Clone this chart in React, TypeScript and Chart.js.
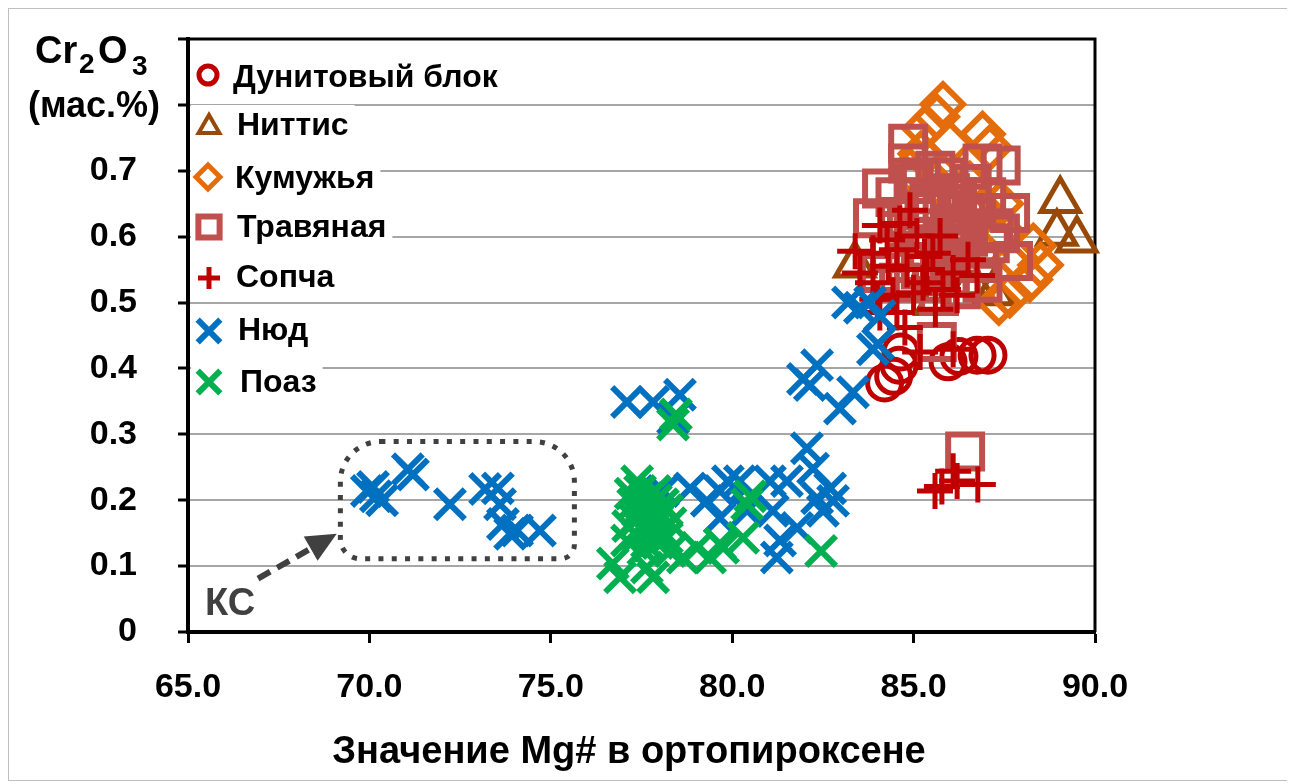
import React, { useEffect, useRef } from 'react';
import { Chart, registerables } from 'chart.js';
import { drawPoint } from 'chart.js/helpers';

Chart.register(...registerables);

const FONT = '"Liberation Sans", Arial, sans-serif';

// Axis ranges and ticks
const xMin = 65;
const xMax = 90;
const xStep = 5;
const yMin = 0;
const yMax = 0.9;
const yStep = 0.1;

const seriesNames = ['Дунитовый блок', 'Ниттис', 'Кумужья', 'Травяная', 'Сопча', 'Нюд', 'Поаз'];

// Mg# (x) and Cr2O3 wt.% (y) for each massif
const dunitBlock = [
  [84.2, 0.378], [84.45, 0.388], [84.6, 0.405], [84.65, 0.425],
  [85.95, 0.41], [86.25, 0.418], [86.75, 0.42], [87.05, 0.42],
];

const nittis = [
  [89.04, 0.655], [88.95, 0.605], [89.5, 0.595], [83.38, 0.557],
  [85.6, 0.5], [87.2, 0.515], [86.6, 0.53],
];

const kumuzhya = [
  [85.81, 0.801], [85.64, 0.782], [85.3, 0.764], [86.9, 0.756], [86.0, 0.741],
  [87.1, 0.735], [85.2, 0.726], [86.55, 0.68], [85.6, 0.68], [87.4, 0.65],
  [86.3, 0.62], [87.5, 0.605], [88.3, 0.586], [88.5, 0.557], [87.8, 0.568],
  [88.2, 0.535], [87.65, 0.511], [87.35, 0.5], [84.9, 0.7], [86.9, 0.64],
];

const travyanaya = [
  [84.85, 0.741], [84.85, 0.711], [84.13, 0.673], [83.88, 0.628], [86.9, 0.711],
  [87.4, 0.708], [87.66, 0.636], [87.74, 0.563], [87.2, 0.613], [85.64, 0.44],
  [86.42, 0.274], [85.45, 0.651], [86.0, 0.666], [86.28, 0.59], [84.35, 0.575],
  [84.07, 0.545], [85.18, 0.613], [86.42, 0.636], [85.73, 0.56], [87.38, 0.605],
  [85.0, 0.68], [86.6, 0.68], [85.6, 0.7], [86.0, 0.62], [84.6, 0.63],
  [85.4, 0.58], [86.8, 0.56], [86.3, 0.52], [85.3, 0.64], [85.8, 0.64],
  [86.1, 0.6], [85.9, 0.58], [86.5, 0.6], [85.0, 0.6], [84.8, 0.56],
  [85.5, 0.53], [86.0, 0.54], [86.6, 0.65], [86.2, 0.66], [85.2, 0.69],
  [84.5, 0.66], [85.9, 0.69], [87.0, 0.66], [87.1, 0.59], [86.9, 0.53],
  [85.7, 0.51], [84.6, 0.53], [85.2, 0.55],
];

const sopcha = [
  [84.62, 0.62], [85.09, 0.601], [85.73, 0.601], [84.27, 0.595], [83.88, 0.575],
  [84.54, 0.58], [85.53, 0.575], [83.52, 0.545], [84.82, 0.55], [85.37, 0.55],
  [85.26, 0.53], [86.09, 0.545], [86.75, 0.541], [85.81, 0.52], [86.2, 0.511],
  [83.88, 0.53], [84.43, 0.511], [84.07, 0.485], [84.54, 0.485], [84.76, 0.462],
  [85.18, 0.425], [86.09, 0.429], [84.07, 0.617], [83.39, 0.578], [84.9, 0.64],
  [85.3, 0.57], [84.3, 0.555], [85.0, 0.515], [85.6, 0.49], [84.0, 0.505],
  [86.5, 0.565],
  [85.59, 0.214], [86.09, 0.244], [86.2, 0.229], [86.77, 0.224], [85.78, 0.221],
];

const nyud = [
  [69.93, 0.214], [70.18, 0.206], [70.35, 0.2], [70.1, 0.22], [71.06, 0.247],
  [71.2, 0.239], [72.22, 0.194], [73.19, 0.217], [73.54, 0.218], [73.6, 0.194],
  [73.68, 0.164], [73.88, 0.149], [74.07, 0.154], [74.7, 0.154],
  [77.1, 0.349], [77.82, 0.349], [78.56, 0.36], [78.37, 0.324],
  [78.09, 0.214], [78.84, 0.218], [79.3, 0.199], [79.66, 0.173], [79.66, 0.214],
  [79.88, 0.229], [80.21, 0.229], [80.41, 0.184], [81.32, 0.139], [81.23, 0.113],
  [81.79, 0.158], [81.04, 0.229], [82.5, 0.184], [82.7, 0.218], [82.78, 0.199],
  [81.51, 0.229], [81.12, 0.184], [82.34, 0.203], [82.06, 0.279], [82.23, 0.248],
  [81.95, 0.384], [82.34, 0.405], [82.14, 0.375], [82.97, 0.339], [83.33, 0.364],
  [83.88, 0.429], [83.52, 0.492], [83.19, 0.5], [84.02, 0.437], [83.8, 0.5],
  [84.07, 0.48],
];

const poaz = [
  [77.38, 0.229], [76.71, 0.104], [76.91, 0.083], [77.82, 0.083], [77.65, 0.098],
  [78.29, 0.123], [78.64, 0.113], [79.03, 0.128], [79.39, 0.113], [79.66, 0.134],
  [77.46, 0.158], [77.93, 0.169], [77.27, 0.194], [78.09, 0.194], [77.65, 0.203],
  [77.1, 0.139], [78.2, 0.143], [78.37, 0.315], [78.45, 0.33], [80.41, 0.194],
  [80.3, 0.143], [82.45, 0.123], [79.75, 0.128], [80.5, 0.206], [77.6, 0.184],
  [77.8, 0.154], [78.0, 0.176], [77.35, 0.169], [77.7, 0.131], [77.46, 0.214],
  [77.87, 0.214], [77.13, 0.161], [77.5, 0.19], [77.75, 0.17], [78.05, 0.155],
  [77.4, 0.145], [77.9, 0.2], [78.2, 0.185], [77.55, 0.125], [78.3, 0.165],
  [77.2, 0.21], [77.95, 0.135],
];

const seriesData = [dunitBlock, nittis, kumuzhya, travyanaya, sopcha, nyud, poaz];

// Marker styles: plot marker and smaller legend marker
const markerStyles = [
  { color: '#C00000', pointStyle: 'circle', radius: 17, width: 5, legendRadius: 9, legendWidth: 5 },
  { color: '#984807', pointStyle: 'triangle', radius: 22, width: 5, legendRadius: 12, legendWidth: 4 },
  { color: '#E46C0A', pointStyle: 'rectRot', radius: 20, width: 6, legendRadius: 12, legendWidth: 5 },
  { color: '#C0504D', pointStyle: 'rect', radius: 24, width: 6, legendRadius: 15, legendWidth: 6 },
  { color: '#C00000', pointStyle: 'cross', radius: 18, width: 5, legendRadius: 11, legendWidth: 5 },
  { color: '#0070C0', pointStyle: 'crossRot', radius: 21, width: 6, legendRadius: 16, legendWidth: 6 },
  { color: '#00B050', pointStyle: 'crossRot', radius: 21, width: 6, legendRadius: 16, legendWidth: 6 },
];

// Legend layout (canvas px): marker centre, text start, text baseline
const legendRows = [
  { mx: 199, my: 66, tx: 224, ty: 78 },
  { mx: 200, my: 118, tx: 228, ty: 126 },
  { mx: 199, my: 168, tx: 226, ty: 179 },
  { mx: 200, my: 218, tx: 228, ty: 228 },
  { mx: 200, my: 269, tx: 227, ty: 278 },
  { mx: 200, my: 322, tx: 229, ty: 331 },
  { mx: 200, my: 373, tx: 231, ty: 383 },
];

// Outline around the КС group and its pointer, in data units
const groupBox = { x0: 69.2, x1: 75.65, y0: 0.111, y1: 0.289 };
const arrowTail = { x: 66.93, y: 0.081 };
const arrowTip = { x: 69.1, y: 0.149 };
const groupLabel = { text: 'КС', x: 65.47, y: 0.026 };

const annotationColor = '#404040';

const chartDecor = {
  id: 'chartDecor',
  beforeDatasetsDraw(chart: any) {
    const { ctx, chartArea: a, scales } = chart;
    const sx = scales.x;
    const sy = scales.y;
    ctx.save();

    // top and right frame
    ctx.strokeStyle = '#000';
    ctx.lineWidth = 3;
    ctx.beginPath();
    ctx.moveTo(a.left, a.top);
    ctx.lineTo(a.right, a.top);
    ctx.lineTo(a.right, a.bottom);
    ctx.stroke();

    // legend
    ctx.font = `bold 32px ${FONT}`;
    ctx.textBaseline = 'alphabetic';
    ctx.textAlign = 'left';
    seriesNames.forEach((name, i) => {
      const r = legendRows[i];
      const m = markerStyles[i];
      const w = ctx.measureText(name).width;
      ctx.fillStyle = '#fff';
      ctx.fillRect(a.left + 3, r.my - 22, r.tx + w + 6 - (a.left + 3), 44);
      ctx.fillStyle = '#000';
      ctx.fillText(name, r.tx, r.ty);
      ctx.strokeStyle = m.color;
      ctx.fillStyle = 'rgba(0,0,0,0)';
      ctx.lineWidth = m.legendWidth;
      drawPoint(ctx, { pointStyle: m.pointStyle, radius: m.legendRadius, rotation: 0, borderWidth: m.legendWidth }, r.mx, r.my);
    });

    // dotted outline around the group
    const bx0 = sx.getPixelForValue(groupBox.x0);
    const bx1 = sx.getPixelForValue(groupBox.x1);
    const by0 = sy.getPixelForValue(groupBox.y1);
    const by1 = sy.getPixelForValue(groupBox.y0);
    ctx.strokeStyle = annotationColor;
    ctx.lineWidth = 5;
    ctx.setLineDash([5, 8.3]);
    ctx.beginPath();
    ctx.roundRect(bx0, by0, bx1 - bx0, by1 - by0, [40, 40, 14, 20]);
    ctx.stroke();

    // dashed pointer
    const tx0 = sx.getPixelForValue(arrowTail.x);
    const ty0 = sy.getPixelForValue(arrowTail.y);
    const tx1 = sx.getPixelForValue(arrowTip.x);
    const ty1 = sy.getPixelForValue(arrowTip.y);
    const len = Math.hypot(tx1 - tx0, ty1 - ty0);
    const ux = (tx1 - tx0) / len;
    const uy = (ty1 - ty0) / len;
    const headLen = 30;
    const headHalf = 14;
    const bxc = tx1 - ux * headLen;
    const byc = ty1 - uy * headLen;
    ctx.setLineDash([14, 8]);
    ctx.lineWidth = 6;
    ctx.beginPath();
    ctx.moveTo(tx0, ty0);
    ctx.lineTo(bxc, byc);
    ctx.stroke();
    ctx.setLineDash([]);
    ctx.fillStyle = annotationColor;
    ctx.beginPath();
    ctx.moveTo(tx1, ty1);
    ctx.lineTo(bxc - uy * headHalf, byc + ux * headHalf);
    ctx.lineTo(bxc + uy * headHalf, byc - ux * headHalf);
    ctx.closePath();
    ctx.fill();

    // group label
    ctx.font = `bold 38px ${FONT}`;
    ctx.fillText(groupLabel.text, sx.getPixelForValue(groupLabel.x), sy.getPixelForValue(groupLabel.y));

    ctx.restore();
  },
  afterDraw(chart: any) {
    const { ctx } = chart;
    ctx.save();
    ctx.fillStyle = '#000';
    ctx.textBaseline = 'alphabetic';
    ctx.textAlign = 'left';

    // y-axis title: Cr2O3 with subscripts, unit below
    const big = `bold 38px ${FONT}`;
    const small = `bold 28px ${FONT}`;
    ctx.font = big;
    ctx.fillText('Cr', 26, 54);
    ctx.font = small;
    ctx.fillText('2', 70, 64);
    ctx.font = big;
    ctx.fillText('O', 89, 54);
    ctx.font = small;
    ctx.fillText('3', 123, 66);
    ctx.font = `bold 36px ${FONT}`;
    ctx.textAlign = 'center';
    ctx.fillText('(мас.%)', 85, 108);

    // x-axis title
    ctx.font = `bold 38px ${FONT}`;
    ctx.fillText('Значение Mg# в ортопироксене', 620, 754);
    ctx.restore();
  },
};

export default function App() {
  const ref = useRef<HTMLCanvasElement>(null);

  useEffect(() => {
    const datasets = seriesData.map((pts, i) => {
      const m = markerStyles[i];
      return {
        label: seriesNames[i],
        data: pts.map(([x, y]) => ({ x, y })),
        pointStyle: m.pointStyle,
        pointRadius: m.radius,
        pointBorderWidth: m.width,
        pointBorderColor: m.color,
        pointBackgroundColor: 'rgba(0,0,0,0)',
        showLine: false,
        clip: false,
        order: seriesData.length - 1 - i,
      };
    });

    const chart = new Chart(ref.current as HTMLCanvasElement, {
      type: 'scatter',
      data: { datasets } as any,
      options: {
        animation: false,
        responsive: false,
        devicePixelRatio: 1,
        events: [],
        layout: { padding: { left: 0, top: 25, right: 193, bottom: 0 } },
        plugins: {
          legend: { display: false },
          tooltip: { enabled: false },
          title: { display: false },
        },
        scales: {
          x: {
            type: 'linear',
            min: xMin,
            max: xMax,
            afterFit: (s: any) => {
              s.height = 148;
              s.paddingLeft = 0;
              s.paddingRight = 0;
            },
            ticks: {
              stepSize: xStep,
              color: '#000',
              padding: 24,
              font: { family: FONT, size: 34, weight: 'bold' },
              callback: (v: any) => Number(v).toFixed(1),
            },
            grid: {
              drawOnChartArea: false,
              drawTicks: true,
              tickLength: 11,
              tickWidth: 3,
              tickColor: '#000',
            },
            border: { color: '#000', width: 4 },
          },
          y: {
            type: 'linear',
            min: yMin,
            max: yMax,
            afterFit: (s: any) => {
              s.width = 179;
              s.paddingTop = 0;
              s.paddingBottom = 0;
            },
            ticks: {
              stepSize: yStep,
              color: '#000',
              padding: 41,
              font: { family: FONT, size: 34, weight: 'bold' },
              callback: (v: any) => {
                const r = Math.round(Number(v) * 10) / 10;
                if (r === 0) return '0';
                if (r > 0.75) return '';
                return r.toFixed(1);
              },
            },
            grid: {
              color: (c: any) => {
                const v = c.tick ? Math.round(c.tick.value * 10) / 10 : 0;
                return v <= 0 || v >= 0.9 ? 'rgba(0,0,0,0)' : '#a6a6a6';
              },
              lineWidth: 2,
              drawTicks: true,
              tickLength: 10,
              tickWidth: 3,
              tickColor: '#000',
            },
            border: { color: '#000', width: 4 },
          },
        },
      } as any,
      plugins: [chartDecor],
    });

    return () => chart.destroy();
  }, []);

  return (
    <div
      style={{
        width: 1281,
        height: 773,
        border: '1px solid #bfbfbf',
        boxSizing: 'border-box',
        background: '#fff',
      }}
    >
      <canvas ref={ref} width={1279} height={771} style={{ display: 'block', width: 1279, height: 771 }} />
    </div>
  );
}
